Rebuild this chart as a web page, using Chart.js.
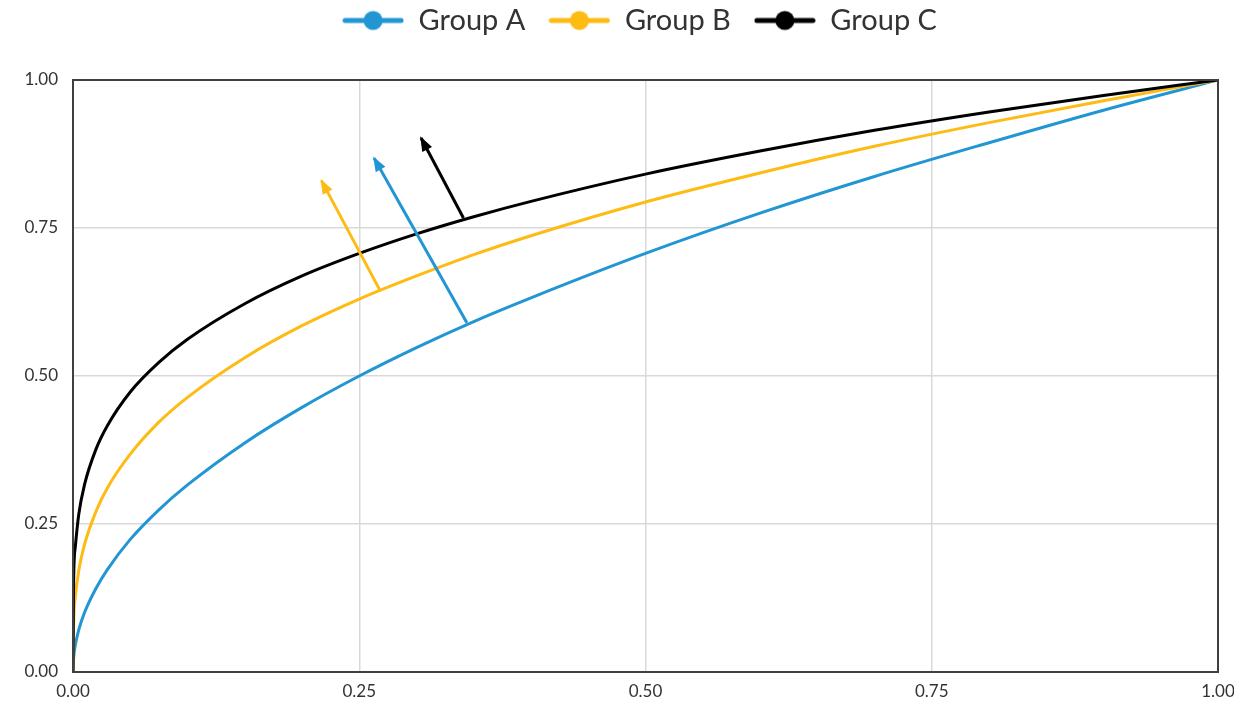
<!DOCTYPE html>
<html>
<head>
<meta charset="utf-8">
<script src="https://cdn.jsdelivr.net/npm/chart.js@4.4.1/dist/chart.umd.min.js"></script>
<style>
  html, body { margin: 0; padding: 0; background: #fff; }
  #wrap { width: 1234px; height: 706px; }
</style>
</head>
<body>
<div id="wrap"><canvas id="curves"></canvas></div>
<script>
//Data
const xValues = [0, 0.0005, 0.002, 0.005, 0.01, 0.02, 0.03, 0.05, 0.075, 0.1, 0.15, 0.2, 0.25, 0.3, 0.35, 0.4, 0.5, 0.6, 0.7, 0.8, 0.9, 1]
const groupA = [0, 0.022, 0.045, 0.071, 0.10, 0.141, 0.173, 0.224, 0.274, 0.316, 0.387, 0.447, 0.50, 0.548, 0.592, 0.632, 0.707, 0.775, 0.837, 0.894, 0.949, 1]
const groupB = [0, 0.079, 0.126, 0.171, 0.215, 0.271, 0.311, 0.368, 0.422, 0.464, 0.531, 0.585, 0.630, 0.669, 0.705, 0.737, 0.794, 0.843, 0.888, 0.928, 0.965, 1]
const groupC = [0, 0.150, 0.211, 0.266, 0.316, 0.376, 0.416, 0.473, 0.523, 0.562, 0.622, 0.669, 0.707, 0.740, 0.769, 0.795, 0.841, 0.880, 0.915, 0.946, 0.974, 1]

//Arrows: [start, tip]
const arrowA = [{ x: 0.344, y: 0.590 }, { x: 0.263, y: 0.868 }]
const arrowB = [{ x: 0.268, y: 0.645 }, { x: 0.217, y: 0.830 }]
const arrowC = [{ x: 0.341, y: 0.767 }, { x: 0.304, y: 0.902 }]

const tickValues = [0, 0.25, 0.5, 0.75, 1]
const groupNames = ['Group A', 'Group B', 'Group C']
const colors = ['#2196d3', '#fdbb13', '#000000']

function toPoints(ys) {
  return xValues.map((x, i) => ({ x: x, y: ys[i] }))
}

//Legend marker: line with a dot
function legendMarker(color) {
  let c = document.createElement('canvas')
  c.width = 62
  c.height = 22
  let g = c.getContext('2d')
  g.strokeStyle = color
  g.lineWidth = 5
  g.lineCap = 'round'
  g.beginPath()
  g.moveTo(3, 11)
  g.lineTo(59, 11)
  g.stroke()
  g.fillStyle = color
  g.beginPath()
  g.arc(31, 11, 9.5, 0, Math.PI * 2)
  g.fill()
  return c
}

const markers = colors.map(legendMarker)

//Legend height fix + center it over the plot
const legendFitPlugin = {
  id: 'legendFit',
  afterInit(chart) {
    const leg = chart.legend
    const fit = leg.fit
    leg.fit = function () {
      fit.call(this)
      this.height = 97
    }
  },
  afterLayout(chart) {
    const leg = chart.legend
    const area = chart.chartArea
    leg.left = area.left - 6
    leg.right = area.right - 6
  }
}

//Frame and arrowheads
const framePlugin = {
  id: 'frame',
  afterDatasetsDraw(chart) {
    const ctx = chart.ctx
    chart.data.datasets.forEach((ds, i) => {
      if (!ds.arrow) return
      const meta = chart.getDatasetMeta(i)
      const p0 = meta.data[0]
      const p1 = meta.data[1]
      const ang = Math.atan2(p1.y - p0.y, p1.x - p0.x)
      const len = 13
      const half = 5.5
      ctx.save()
      ctx.fillStyle = ds.borderColor
      ctx.translate(p1.x, p1.y)
      ctx.rotate(ang)
      ctx.beginPath()
      ctx.moveTo(2, 0)
      ctx.lineTo(-len, -half)
      ctx.lineTo(-len, half)
      ctx.closePath()
      ctx.fill()
      ctx.restore()
    })
    const a = chart.chartArea
    ctx.save()
    ctx.strokeStyle = '#404040'
    ctx.lineWidth = 2
    ctx.strokeRect(a.left, a.top, a.right - a.left, a.bottom - a.top)
    ctx.restore()
  }
}

const curveSets = [groupA, groupB, groupC].map((ys, i) => ({
  label: groupNames[i],
  data: toPoints(ys),
  borderColor: colors[i],
  backgroundColor: colors[i],
  borderWidth: 3,
  pointRadius: 0,
  cubicInterpolationMode: 'monotone',
  order: 3 - i
}))

const arrowSets = [arrowA, arrowB, arrowC].map((pts, i) => ({
  label: groupNames[i] + ' arrow',
  data: pts,
  arrow: true,
  borderColor: colors[i],
  borderWidth: 3,
  pointRadius: 0,
  order: 0
}))

const ctx = document.getElementById('curves').getContext('2d')

const curveChart = new Chart(ctx, {
  type: 'line',
  data: { datasets: curveSets.concat(arrowSets) },
  plugins: [legendFitPlugin, framePlugin],
  options: {
    responsive: true,
    maintainAspectRatio: false,
    animation: false,
    layout: { padding: { left: 0, right: 0, top: -17, bottom: 0 } },
    plugins: {
      tooltip: { enabled: false },
      legend: {
        position: 'top',
        labels: {
          usePointStyle: true,
          pointStyleWidth: 62,
          padding: 23,
          color: '#333333',
          font: { family: 'Lato', size: 29 },
          generateLabels: () => groupNames.map((name, i) => ({
            text: name,
            pointStyle: markers[i],
            fillStyle: colors[i],
            strokeStyle: colors[i],
            lineWidth: 0,
            datasetIndex: i,
            fontColor: '#333333'
          }))
        }
      }
    },
    scales: {
      x: {
        type: 'linear',
        min: 0,
        max: 1,
        afterBuildTicks: (s) => { s.ticks = tickValues.map(v => ({ value: v })) },
        afterFit: (s) => { s.height = 34; s.paddingRight = 16; s.paddingLeft = 0 },
        grid: { color: '#d9d9d9', lineWidth: 1.5, drawTicks: false },
        border: { display: false },
        ticks: {
          padding: 9,
          color: '#333333',
          font: { family: 'Lato', size: 17 },
          callback: (v) => v.toFixed(2)
        }
      },
      y: {
        type: 'linear',
        min: 0,
        max: 1,
        afterBuildTicks: (s) => { s.ticks = tickValues.map(v => ({ value: v })) },
        afterFit: (s) => { s.width = 73 },
        grid: { color: '#d9d9d9', lineWidth: 1.5, drawTicks: false },
        border: { display: false },
        ticks: {
          padding: 15,
          color: '#333333',
          font: { family: 'Lato', size: 17 },
          callback: (v) => v.toFixed(2)
        }
      }
    }
  }
})
</script>
</body>
</html>
